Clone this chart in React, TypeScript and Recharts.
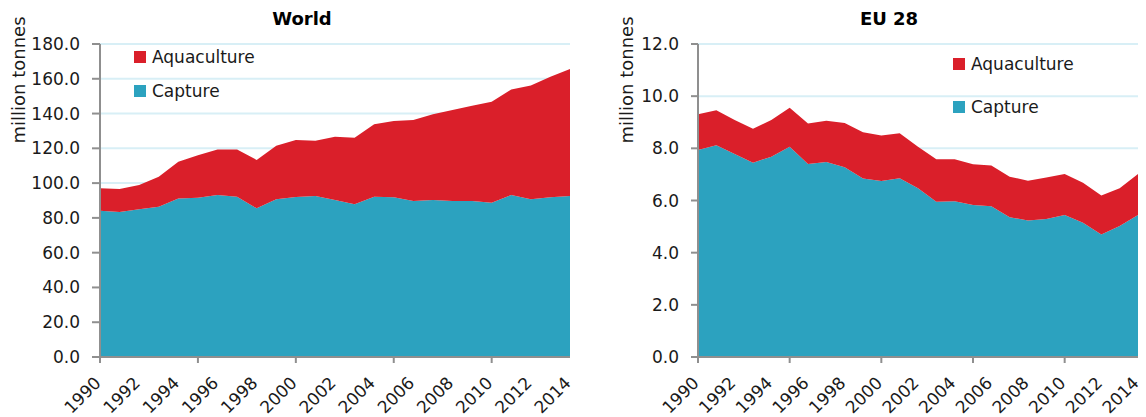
import React from 'react';
import { AreaChart, Area, XAxis, YAxis, CartesianGrid } from 'recharts';

const years = ['1990','1991','1992','1993','1994','1995','1996','1997','1998','1999','2000','2001','2002','2003','2004','2005','2006','2007','2008','2009','2010','2011','2012','2013','2014'];

const worldCapture = [84.1, 83.4, 84.9, 86.4, 91.2, 91.6, 93.2, 92.2, 85.5, 90.7, 92.0, 92.6, 90.3, 87.8, 92.2, 91.8, 89.7, 90.3, 89.7, 89.7, 88.7, 93.2, 90.7, 91.8, 92.6];
const worldAquaculture = [12.9, 13.2, 14.0, 17.3, 21.1, 24.4, 26.2, 27.2, 27.8, 30.8, 32.8, 31.8, 36.4, 38.3, 41.6, 43.9, 46.6, 49.3, 52.3, 54.8, 58.1, 60.7, 65.5, 69.4, 73.0];

const euCapture = [7.94, 8.12, 7.78, 7.45, 7.68, 8.06, 7.40, 7.48, 7.27, 6.84, 6.75, 6.85, 6.47, 5.95, 5.97, 5.83, 5.78, 5.36, 5.23, 5.29, 5.44, 5.15, 4.70, 5.02, 5.44];
const euAquaculture = [1.37, 1.34, 1.31, 1.30, 1.41, 1.50, 1.55, 1.58, 1.70, 1.78, 1.74, 1.73, 1.59, 1.63, 1.61, 1.56, 1.56, 1.55, 1.53, 1.59, 1.58, 1.53, 1.49, 1.45, 1.58];

const worldTicks = [0, 20, 40, 60, 80, 100, 120, 140, 160, 180];
const euTicks = [0, 2, 4, 6, 8, 10, 12];

const seriesNames = { capture: 'Capture', aquaculture: 'Aquaculture' };

const worldData = years.map((y, i) => ({ year: y, capture: worldCapture[i], aquaculture: worldAquaculture[i] }));
const euData = years.map((y, i) => ({ year: y, capture: euCapture[i], aquaculture: euAquaculture[i] }));

const RED = '#da1f2a';
const TEAL = '#2ca2bf';
const AXIS = '#8f8f8f';
const GRID = '#d8eff6';
const TEXT = '#1a1a1a';
const FONT = '"DejaVu Sans", sans-serif';

const XTick = (props: any) => {
  const { x, y, payload } = props;
  const yr = Number(payload.value);
  const ax = x + 2;
  const ay = y + 27;
  return (
    <g>
      {yr % 5 === 0 && <line x1={x} x2={x} y1={y} y2={y + 6} stroke={AXIS} strokeWidth={2} />}
      {yr % 2 === 0 && (
        <text x={ax} y={ay} transform={`rotate(-45 ${ax} ${ay})`} textAnchor="end" fontSize={17} fill={TEXT} fontFamily={FONT}>
          {payload.value}
        </text>
      )}
    </g>
  );
};

function Chart(props: { data: any[]; width: number; yWidth: number; ticks: number[]; max: number; tickSize: number; right: number }) {
  const { data, width, yWidth, ticks, max, tickSize, right } = props;
  return (
    <AreaChart width={width} height={417} data={data} margin={{ top: 44, right, left: 0, bottom: 0 }}>
      <CartesianGrid vertical={false} stroke={GRID} strokeWidth={2} />
      <XAxis
        dataKey="year"
        interval={0}
        tickLine={false}
        tickSize={0}
        tickMargin={0}
        height={60}
        axisLine={{ stroke: AXIS, strokeWidth: 2 }}
        tick={<XTick />}
      />
      <YAxis
        width={yWidth}
        domain={[0, max]}
        ticks={ticks}
        interval={0}
        tickFormatter={(v: number) => v.toFixed(1)}
        tickSize={tickSize}
        tickMargin={12}
        axisLine={{ stroke: AXIS, strokeWidth: 2 }}
        tickLine={{ stroke: AXIS, strokeWidth: 2 }}
        tick={{ fontSize: 17, fill: TEXT, fontFamily: FONT }}
      />
      <Area type="linear" dataKey="capture" name={seriesNames.capture} stackId="a" stroke="none" fill={TEAL} fillOpacity={1} isAnimationActive={false} dot={false} activeDot={false} />
      <Area type="linear" dataKey="aquaculture" name={seriesNames.aquaculture} stackId="a" stroke="none" fill={RED} fillOpacity={1} isAnimationActive={false} dot={false} activeDot={false} />
    </AreaChart>
  );
}

const abs = (left: number, top: number, extra: any = {}) => ({ position: 'absolute' as const, left, top, ...extra });

function LegendItem(props: { x: number; y: number; color: string; label: string }) {
  const { x, y, color, label } = props;
  return (
    <div style={abs(x, y - 10, { display: 'flex', alignItems: 'center', height: 20, whiteSpace: 'nowrap' })}>
      <div style={{ width: 12, height: 12, background: color, marginRight: 6 }} />
      <span style={{ fontSize: 17, color: TEXT, fontFamily: FONT, lineHeight: '20px' }}>{label}</span>
    </div>
  );
}

function YLabel(props: { x: number; y: number }) {
  return (
    <div style={abs(props.x, props.y, { transform: 'translate(-50%, -50%) rotate(-90deg)', fontSize: 18, color: TEXT, fontFamily: FONT, whiteSpace: 'nowrap', lineHeight: 1 })}>
      million tonnes
    </div>
  );
}

function Title(props: { x: number; y: number; text: string }) {
  return (
    <div style={abs(props.x, props.y, { transform: 'translate(-50%, -50%)', fontSize: 18, fontWeight: 'bold', color: '#000', fontFamily: FONT, whiteSpace: 'nowrap', lineHeight: 1 })}>
      {props.text}
    </div>
  );
}

export default function App() {
  return (
    <div style={{ position: 'absolute', left: 0, top: 0, width: 1146, height: 417, background: '#fff', fontFamily: FONT }}>
      <div style={abs(0, 0)}>
        <Chart data={worldData} width={580} yWidth={100} ticks={worldTicks} max={180} tickSize={8} right={10} />
      </div>
      <div style={abs(580, 0)}>
        <Chart data={euData} width={566} yWidth={118} ticks={euTicks} max={12} tickSize={7} right={8} />
      </div>
      <Title x={302} y={19} text="World" />
      <Title x={889} y={19} text="EU 28" />
      <YLabel x={19} y={80} />
      <YLabel x={627} y={80} />
      <LegendItem x={134} y={57} color={RED} label={seriesNames.aquaculture} />
      <LegendItem x={134} y={91} color={TEAL} label={seriesNames.capture} />
      <LegendItem x={953} y={64} color={RED} label={seriesNames.aquaculture} />
      <LegendItem x={953} y={107} color={TEAL} label={seriesNames.capture} />
    </div>
  );
}
